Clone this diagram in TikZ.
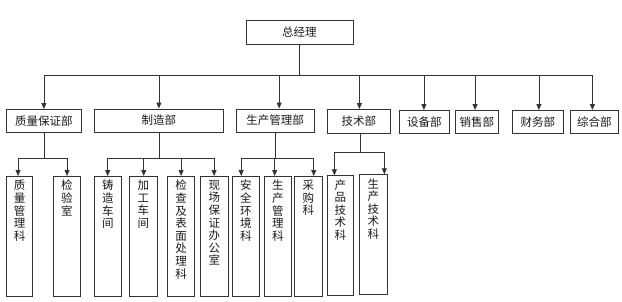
\documentclass[tikz,border=0pt]{standalone}
\usepackage{fontspec}
\setmainfont{Noto Sans CJK SC}
\usetikzlibrary{arrows.meta}
\begin{document}
\begin{tikzpicture}[x=1pt,y=-1pt,
  every node/.style={font=\fontsize{11.5}{12.6}\selectfont, text=black!90},
  box/.style={draw=black!80, line width=0.8pt, rectangle, inner sep=0pt, anchor=north west},
  vtext/.style={anchor=north, inner sep=0pt, align=center, yshift=-4pt},
  conn/.style={draw=black!80, line width=0.8pt},
  arr/.style={conn, -{Triangle[width=5pt,length=6pt]}}]
\useasboundingbox (0,0) rectangle (622,301);
% top
\node[box, minimum width=107pt, minimum height=24pt] (gm) at (245.5,19.5) {总经理};
% level 2
\node[box, minimum width=75pt, minimum height=23pt] (qa) at (6,109) {质量保证部};
\node[box, minimum width=129pt, minimum height=23pt] (mfg) at (94,108.5) {制造部};
\node[box, minimum width=77.5pt, minimum height=23pt] (pm) at (236,108.5) {生产管理部};
\node[box, minimum width=63pt, minimum height=23.5pt] (tech) at (327,109) {技术部};
\node[box, minimum width=50pt, minimum height=23pt] (equip) at (399,110) {设备部};
\node[box, minimum width=43pt, minimum height=23pt] (sales) at (455,110) {销售部};
\node[box, minimum width=51pt, minimum height=23pt] (fin) at (512,110) {财务部};
\node[box, minimum width=48pt, minimum height=23pt] (gen) at (570,110) {综合部};
% level 3 boxes
\node[box, minimum width=26.3pt, minimum height=119.5pt] (qa1) at (6,176) {};
\node[box, minimum width=27.3pt, minimum height=119.5pt] (qa2) at (52.7,176) {};
\node[box, minimum width=27pt, minimum height=119.5pt] (m1) at (94,176) {};
\node[box, minimum width=27.4pt, minimum height=119.5pt] (m2) at (129.3,176) {};
\node[box, minimum width=27pt, minimum height=119.5pt] (m3) at (167.3,176) {};
\node[box, minimum width=27.4pt, minimum height=119.5pt] (m4) at (200.3,176) {};
\node[box, minimum width=27.3pt, minimum height=119.5pt] (p1) at (231.7,176) {};
\node[box, minimum width=27pt, minimum height=119.5pt] (p2) at (264,176) {};
\node[box, minimum width=27.7pt, minimum height=119.5pt] (p3) at (294,176) {};
\node[box, minimum width=26.6pt, minimum height=119.7pt] (t1) at (326.7,175.3) {};
\node[box, minimum width=27.4pt, minimum height=119.7pt] (t2) at (359.3,174.3) {};
% level 3 texts
\node[vtext] (qa1t) at (qa1.north) {质\\量\\管\\理\\科};
\node[vtext] (qa2t) at (qa2.north) {检\\验\\室};
\node[vtext] (m1t) at (m1.north) {铸\\造\\车\\间};
\node[vtext] (m2t) at (m2.north) {加\\工\\车\\间};
\node[vtext] (m3t) at (m3.north) {检\\查\\及\\表\\面\\处\\理\\科};
\node[vtext] (m4t) at (m4.north) {现\\场\\保\\证\\办\\公\\室};
\node[vtext] (p1t) at (p1.north) {安\\全\\环\\境\\科};
\node[vtext] (p2t) at (p2.north) {生\\产\\管\\理\\科};
\node[vtext] (p3t) at (p3.north) {采\\购\\科};
\node[vtext] (t1t) at (t1.north) {产\\品\\技\\术\\科};
\node[vtext] (t2t) at (t2.north) {生\\产\\技\\术\\科};
% connectors: top to level 2
\foreach \c/\d in {qa/0, mfg/0, pm/4, tech/0.5, equip/-0.5, sales/-1.8, fin/1, gen/-2}
  \draw[arr] (gm.south) -- ++(0,31.5) -| ([xshift=\d pt]\c.north);
% level 2 to level 3
\foreach \c/\d in {qa1/-1.5, qa2/0.3}
  \draw[arr] (qa.south) -- ++(0,26) -| ([xshift=\d pt]\c.north);
\foreach \c/\d in {m1/-0.2, m2/0.3, m3/-0.1, m4/-0.3}
  \draw[arr] (mfg.south) -- ++(0,26) -| ([xshift=\d pt]\c.north);
\foreach \c/\d in {p1/-4.6, p2/-3.2, p3/5.5}
  \draw[arr] ([xshift=0.3pt]pm.south) -- ++(0,26) -| ([xshift=\d pt]\c.north);
\foreach \c/\d in {t1/-6, t2/11}
  \draw[arr] ([xshift=1.5pt]tech.south) -- ++(0,19) -| ([xshift=\d pt]\c.north);
\end{tikzpicture}
\end{document}
